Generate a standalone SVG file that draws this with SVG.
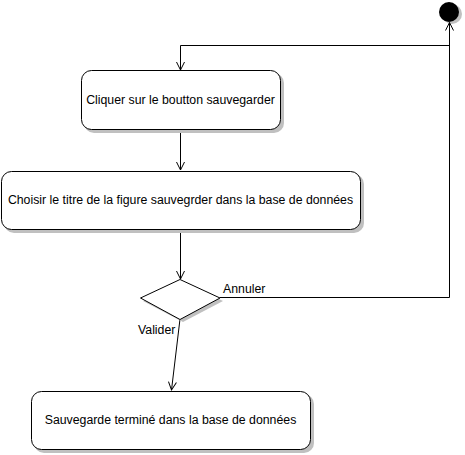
<svg xmlns="http://www.w3.org/2000/svg" width="465" height="455" viewBox="0 0 465 455">
<style>
.shadow{fill:#c0c0c0;stroke:none}
.node{fill:#ffffff;stroke:#000000;stroke-width:1}
.lbl{font-family:"Liberation Sans",Arial,sans-serif;font-size:12.3px;fill:#000000}
.edge{fill:none;stroke:#000000;stroke-width:1}
</style>
<defs>
<marker id="arr" markerWidth="12" markerHeight="12" refX="9" refY="5" orient="auto" markerUnits="userSpaceOnUse">
<path d="M1,1 L9,5 L1,9" fill="none" stroke="#000" stroke-width="1"/>
</marker>
</defs>
<rect width="465" height="455" fill="#ffffff"/>
<g id="start">
<circle class="shadow" cx="452" cy="14" r="10"/>
<circle cx="449" cy="12" r="10" fill="#000000"/>
</g>
<g id="connectors">
<path class="edge" d="M449.5,45.5 H180.5 V70" marker-end="url(#arr)"/>
<path class="edge" d="M180.5,130 V170" marker-end="url(#arr)"/>
<path class="edge" d="M180.5,230 V279" marker-end="url(#arr)"/>
<path class="edge" d="M220,297.5 H449.5 V22.5" marker-end="url(#arr)"/>
<path class="edge" d="M180,319 L171.5,390" marker-end="url(#arr)"/>
<text class="lbl" x="223" y="293">Annuler</text>
<text class="lbl" x="138" y="334">Valider</text>
</g>
<g id="n1">
<rect class="shadow" x="84" y="73" width="200" height="60" rx="10"/>
<rect class="node" x="81.5" y="70.5" width="199" height="59" rx="10"/>
<text class="lbl" x="180.5" y="104" text-anchor="middle">Cliquer sur le boutton sauvegarder</text>
</g>
<g id="n2">
<rect class="shadow" x="4" y="174" width="360" height="59" rx="10"/>
<rect class="node" x="1.5" y="171.5" width="359" height="58" rx="10"/>
<text class="lbl" x="180.5" y="204" text-anchor="middle">Choisir le titre de la figure sauvegrder dans la base de données</text>
</g>
<g id="decision">
<polygon class="shadow" points="183,282 223,301 183,322 143,301"/>
<polygon class="node" points="180,279.5 220,298 180,319.5 140.5,298"/>
</g>
<g id="n3">
<rect class="shadow" x="34" y="394" width="280" height="59" rx="10"/>
<rect class="node" x="31.5" y="391.5" width="279" height="58" rx="10"/>
<text class="lbl" x="170.5" y="424" text-anchor="middle">Sauvegarde terminé dans la base de données</text>
</g>
</svg>
